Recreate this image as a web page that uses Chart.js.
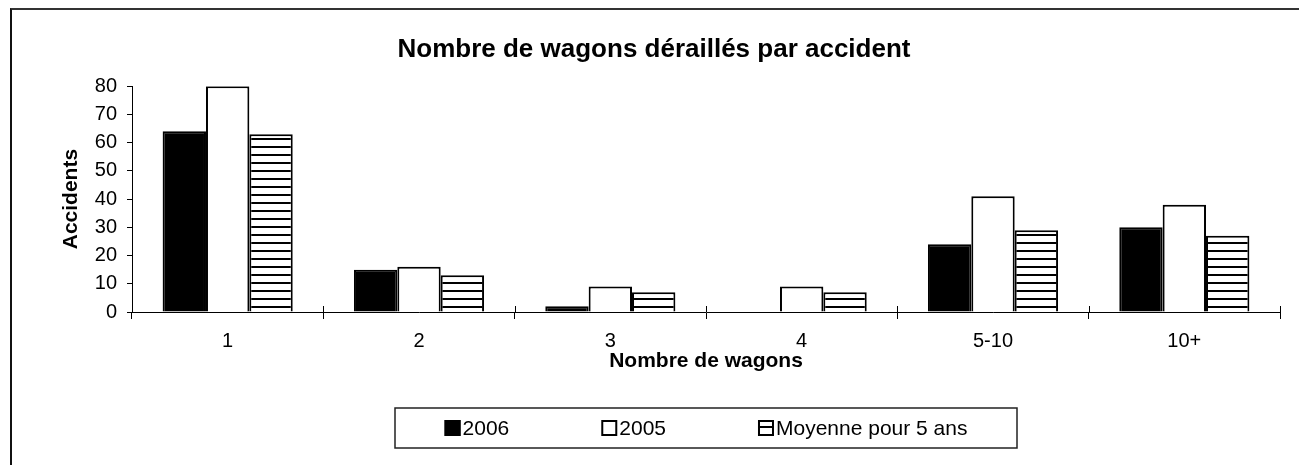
<!DOCTYPE html>
<html lang="fr">
<head>
    <meta charset="UTF-8">
    <title>Nombre de wagons déraillés par accident</title>
    <script src="https://cdn.jsdelivr.net/npm/chart.js"></script>
    <style>
        body {
            margin: 0;
            background: #fff;
            overflow: hidden;
        }
        .frame {
            position: absolute;
            left: 10px;
            top: 8px;
            width: 2000px;
            height: 1000px;
            border-top: 2px solid #333;
            border-left: 2px solid #111;
        }
        .chart-box {
            position: absolute;
            left: 12px;
            top: 10px;
            width: 1287px;
            height: 455px;
        }
    </style>
</head>
<body>
    <div class="frame"></div>
    <div class="chart-box">
        <canvas id="wagonsChart"></canvas>
    </div>

    <script>
        const categories = ["1", "2", "3", "4", "5-10", "10+"];
        const values2006 = [64, 15, 2, 0, 24, 30];
        const values2005 = [80, 16, 9, 9, 41, 38];
        const valuesMoyenne = [63, 13, 7, 7, 29, 27];
        const yTicks = [0, 10, 20, 30, 40, 50, 60, 70, 80];

        const fontName = '"Liberation Sans", Arial, sans-serif';
        Chart.defaults.font.family = fontName;
        Chart.defaults.color = "#000";

        // hachures horizontales pour la moyenne
        function makeStripes() {
            const c = document.createElement("canvas");
            c.width = 8;
            c.height = 8;
            const g = c.getContext("2d");
            g.fillStyle = "#fff";
            g.fillRect(0, 0, 8, 8);
            g.fillStyle = "#000";
            g.fillRect(0, 0, 8, 2);
            return g.createPattern(c, "repeat");
        }

        // legende encadree + petits traits de l'axe X, facon Excel
        const excelLook = {
            id: "excelLook",
            afterDraw(chart) {
                const ctx = chart.ctx;
                const area = chart.chartArea;
                const xScale = chart.scales.x;

                ctx.save();
                ctx.strokeStyle = "#000";
                ctx.lineWidth = 1;
                const step = (xScale.right - xScale.left) / categories.length;
                for (let i = 0; i <= categories.length; i++) {
                    const px = Math.round(xScale.left + i * step) + 0.5;
                    ctx.beginPath();
                    ctx.moveTo(px, area.bottom - 6);
                    ctx.lineTo(px, area.bottom);
                    ctx.stroke();
                }

                const cx = (area.left + area.right) / 2;
                const w = 622, h = 40;
                const top = chart.height - 57;
                ctx.lineWidth = 1.5;
                ctx.strokeStyle = "#222";
                ctx.strokeRect(Math.round(cx - w / 2), top, w, h);

                ctx.font = "21px " + fontName;
                ctx.textBaseline = "middle";
                const sq = 16, gap = 2, space = 92;
                const items = chart.data.datasets.map(ds => ({ ds: ds, tw: ctx.measureText(ds.label).width }));
                let total = space * (items.length - 1);
                items.forEach(it => { total += sq + gap + it.tw; });
                let x = cx - total / 2;
                const cy = top + h / 2;
                items.forEach(it => {
                    ctx.fillStyle = it.ds.backgroundColor;
                    ctx.fillRect(x, cy - sq / 2, sq, sq);
                    ctx.lineWidth = 2;
                    ctx.strokeStyle = "#000";
                    ctx.strokeRect(x + 1, cy - sq / 2 + 1, sq - 2, sq - 2);
                    ctx.fillStyle = "#000";
                    ctx.fillText(it.ds.label, x + sq + gap, cy + 1);
                    x += sq + gap + it.tw + space;
                });
                ctx.restore();
            }
        };

        const ctx = document.getElementById("wagonsChart").getContext("2d");
        new Chart(ctx, {
            type: "bar",
            data: {
                labels: categories,
                datasets: [
                    {
                        label: "2006",
                        data: values2006,
                        backgroundColor: "#000",
                        borderColor: "#000",
                        borderWidth: 2
                    },
                    {
                        label: "2005",
                        data: values2005,
                        backgroundColor: "#fff",
                        borderColor: "#000",
                        borderWidth: 2
                    },
                    {
                        label: "Moyenne pour 5 ans",
                        data: valuesMoyenne,
                        backgroundColor: makeStripes(),
                        borderColor: "#000",
                        borderWidth: 2
                    }
                ]
            },
            options: {
                responsive: true,
                maintainAspectRatio: false,
                animation: false,
                categoryPercentage: 0.68,
                barPercentage: 1,
                layout: {
                    padding: { left: 16, right: 19, top: 0, bottom: 91 }
                },
                scales: {
                    x: {
                        afterFit: scale => { scale.height = 62; },
                        grid: {
                            offset: true,
                            drawOnChartArea: false,
                            tickLength: 7,
                            color: "#000"
                        },
                        border: { color: "#000", width: 1 },
                        ticks: {
                            font: { size: 20 },
                            padding: 10,
                            maxRotation: 0
                        },
                        title: {
                            display: true,
                            text: "Nombre de wagons",
                            font: { size: 21, weight: "bold" },
                            padding: { top: 0, bottom: 0 }
                        }
                    },
                    y: {
                        min: 0,
                        max: 80,
                        afterFit: scale => { scale.width = 104; },
                        afterBuildTicks: scale => {
                            scale.ticks = yTicks.map(v => ({ value: v }));
                        },
                        grid: {
                            drawOnChartArea: false,
                            tickLength: 5,
                            color: "#000"
                        },
                        border: { color: "#000", width: 1 },
                        ticks: {
                            font: { size: 20 },
                            padding: 10
                        },
                        title: {
                            display: true,
                            text: "Accidents",
                            font: { size: 21, weight: "bold" },
                            padding: { top: 31, bottom: 0 }
                        }
                    }
                },
                plugins: {
                    title: {
                        display: true,
                        text: "Nombre de wagons déraillés par accident",
                        font: { size: 26, weight: "bold" },
                        color: "#000",
                        padding: { top: 24, bottom: 21 }
                    },
                    legend: { display: false },
                    tooltip: { enabled: false }
                }
            },
            plugins: [excelLook]
        });
    </script>
</body>
</html>
